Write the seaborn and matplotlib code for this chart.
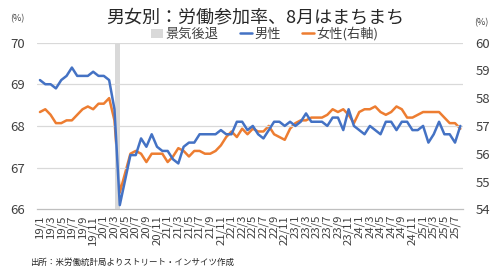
import numpy as np
import pandas as pd
import matplotlib
matplotlib.use("Agg")
import matplotlib.pyplot as plt
from matplotlib.patches import Patch
from matplotlib.lines import Line2D
import seaborn as sns

sns.set_theme(style="white")
plt.rcParams['font.family'] = ['Noto Sans CJK JP', 'DejaVu Sans']

# ---- data ----
months = [f"{y % 100:02d}/{m}" for y in range(2019, 2026) for m in range(1, 13)][:80]

male = [69.1, 69.0, 69.0, 68.9, 69.1, 69.2, 69.4, 69.2, 69.2, 69.2, 69.3, 69.2, 69.2, 69.1, 68.4, 66.1,
        66.7, 67.3, 67.3, 67.7, 67.5, 67.8, 67.5, 67.4, 67.4, 67.2, 67.1, 67.5, 67.6, 67.6, 67.8, 67.8,
        67.8, 67.8, 67.9, 67.8, 67.8, 68.1, 68.1, 67.9, 68.0, 67.8, 67.7, 67.9, 68.1, 68.1, 68.0, 68.1,
        68.0, 68.1, 68.3, 68.1, 68.1, 68.1, 68.0, 68.2, 68.2, 67.9, 68.4, 68.0, 67.9, 67.8, 68.0, 67.9,
        67.8, 68.1, 68.1, 67.9, 68.1, 68.1, 67.9, 67.9, 68.0, 67.6, 67.8, 68.1, 67.8, 67.8, 67.6, 68.0]

female = [57.5, 57.6, 57.4, 57.1, 57.1, 57.2, 57.2, 57.4, 57.6, 57.7, 57.6, 57.8, 57.8, 58.0, 57.2, 54.6,
          55.3, 56.0, 56.1, 56.0, 55.7, 56.0, 56.0, 56.0, 55.7, 55.9, 56.2, 56.1, 55.9, 56.1, 56.1, 56.0,
          56.0, 56.1, 56.3, 56.6, 56.8, 56.6, 56.9, 56.7, 56.9, 56.8, 56.8, 57.0, 56.7, 56.6, 56.5, 56.9,
          57.1, 57.2, 57.2, 57.3, 57.3, 57.3, 57.4, 57.6, 57.5, 57.6, 57.4, 57.1, 57.5, 57.6, 57.6, 57.7,
          57.5, 57.4, 57.5, 57.7, 57.6, 57.3, 57.3, 57.4, 57.5, 57.5, 57.5, 57.5, 57.3, 57.1, 57.1, 56.9]

recession_months = ["20/3", "20/4"]

left_ticks = [66, 67, 68, 69, 70]
right_ticks = [54, 55, 56, 57, 58, 59, 60]

title = "男女別：労働参加率、8月はまちまち"
source = "出所：米労働統計局よりストリート・インサイツ作成"

BLUE = "#4472C4"
ORANGE = "#ED7D31"
GRAY = "#D9D9D9"

df = pd.DataFrame({"idx": np.arange(len(months)), "month": months,
                   "male": male, "female": female})

fig = plt.figure(figsize=(5.0, 2.71), dpi=100)
ax = fig.add_axes([0.0746, 0.2277, 0.8514, 0.6153])
ax2 = ax.twinx()

# recession shading
r0 = months.index(recession_months[0])
r1 = months.index(recession_months[1])
ax.axvspan(r0 + 0.1, r1 + 0.0, color=GRAY, lw=0, zorder=1)

for y in left_ticks[1:]:
    ax.axhline(y, color=GRAY, lw=0.9, zorder=0)

sns.lineplot(data=df, x="idx", y="male", ax=ax, color=BLUE, lw=1.8, zorder=3)
sns.lineplot(data=df, x="idx", y="female", ax=ax2, color=ORANGE, lw=1.8, zorder=3)

ax.set_xlim(-0.5, len(months) - 0.5)
ax.set_ylim(66, 70)
ax2.set_ylim(54, 60)
ax.set_yticks(left_ticks)
ax2.set_yticks(right_ticks)
ax.set_yticklabels([str(v) for v in left_ticks], fontsize=9.5, color="#404040")
ax2.set_yticklabels([str(v) for v in right_ticks], fontsize=9.5, color="#404040")
ax.tick_params(axis="y", length=0, pad=9)
ax2.tick_params(axis="y", length=0, pad=9)

lab_pos = list(range(0, len(months), 2))
ax.set_xticks(lab_pos)
ax.set_xticklabels([months[i] for i in lab_pos], rotation=90, fontsize=8.2, color="#404040")
ax.tick_params(axis="x", length=0, pad=4)
ax.set_xticks(np.arange(-0.5, len(months), 2), minor=True)
ax.tick_params(axis="x", which="minor", length=3, color="#BFBFBF", width=0.8, direction="out")

ax.set_xlabel("")
ax.set_ylabel("")
ax2.set_ylabel("")
for a in (ax, ax2):
    for s in ["top", "left", "right"]:
        a.spines[s].set_visible(False)
ax2.spines["bottom"].set_visible(False)
ax.spines["bottom"].set_color("#BFBFBF")
ax.spines["bottom"].set_linewidth(0.9)
ax.set_zorder(ax2.get_zorder() + 1)
ax.patch.set_visible(False)

fig.text(0.51, 0.935, title, ha="center", va="center", fontsize=13, color="#262626")
fig.text(0.035, 0.932, "(%)", ha="center", va="center", fontsize=6.5, color="#404040")
fig.text(0.962, 0.918, "(%)", ha="center", va="center", fontsize=6.5, color="#404040")

handles = [Patch(facecolor=GRAY, edgecolor="none"),
           Line2D([0], [0], color=BLUE, lw=1.8),
           Line2D([0], [0], color=ORANGE, lw=1.8)]
fig.legend(handles, ["景気後退", "男性", "女性(右軸)"], loc="center",
           bbox_to_anchor=(0.53, 0.875), ncol=3, frameon=False, fontsize=9.5,
           handlelength=0.9, handleheight=0.7, handletextpad=0.2, columnspacing=1.6,
           labelcolor="#404040")

fig.text(0.06, 0.03, source, ha="left", va="center", fontsize=6.1, color="#262626")

fig.savefig("out.png", dpi=100)
